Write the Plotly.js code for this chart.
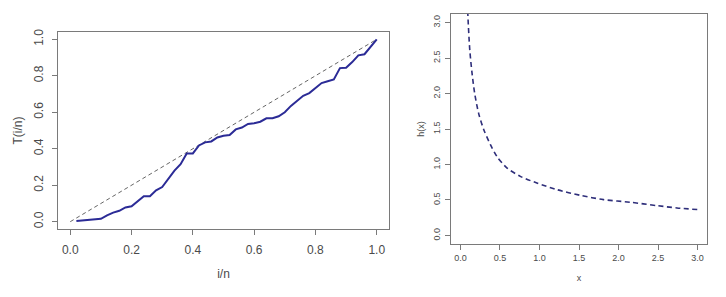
<!DOCTYPE html>
<html>
<head>
<meta charset="utf-8">
<script src="https://cdn.plot.ly/plotly-3.0.1.min.js"></script>
<style>html,body{margin:0;padding:0;background:#fff;}#chart{width:726px;height:297px;}</style>
</head>
<body>
<div id="chart"></div>
<script>
// Left panel: T(i/n) vs i/n
const leftX = [0.02,0.04,0.06,0.08,0.10,0.12,0.14,0.16,0.18,0.20,0.22,0.24,0.26,0.28,0.30,0.32,0.34,0.36,0.38,0.40,0.42,0.44,0.46,0.48,0.50,0.52,0.54,0.56,0.58,0.60,0.62,0.64,0.66,0.68,0.70,0.72,0.74,0.76,0.78,0.80,0.82,0.84,0.86,0.88,0.90,0.92,0.94,0.96,0.98,1.00];
const leftT = [0.004,0.008,0.012,0.013,0.016,0.035,0.05,0.06,0.078,0.085,0.11,0.14,0.14,0.172,0.19,0.235,0.28,0.315,0.374,0.374,0.418,0.435,0.44,0.462,0.471,0.475,0.506,0.516,0.536,0.54,0.548,0.567,0.567,0.578,0.60,0.635,0.665,0.69,0.705,0.73,0.76,0.77,0.78,0.842,0.844,0.875,0.912,0.918,0.96,1.0];
const diagX = [0, 1];
const diagY = [0, 1];
const leftTicks = [0.0, 0.2, 0.4, 0.6, 0.8, 1.0];

// Right panel: h(x) vs x
const rightX = [0.085,0.093,0.118,0.147,0.18,0.23,0.295,0.379,0.463,0.59,0.757,0.967,1.22,1.515,1.81,2.15,2.49,2.74,3.0];
const rightH = [3.4,3.117,2.61,2.28,2.0,1.72,1.49,1.28,1.11,0.95,0.833,0.739,0.646,0.566,0.505,0.468,0.42,0.388,0.365];
const rightTicks = [0.0, 0.5, 1.0, 1.5, 2.0, 2.5, 3.0];

const textCol = '#4a4a4a';
const boxCol = '#7a7a7a';
const fam = 'Liberation Sans, Arial, sans-serif';

const traces = [
  {x: diagX, y: diagY, xaxis: 'x', yaxis: 'y', mode: 'lines',
   line: {color: '#666666', width: 1, dash: '4px,3px'}, hoverinfo: 'skip'},
  {x: leftX, y: leftT, xaxis: 'x', yaxis: 'y', mode: 'lines',
   line: {color: '#2b2b96', width: 2}},
  {x: rightX, y: rightH, xaxis: 'x2', yaxis: 'y2', mode: 'lines',
   line: {color: '#2e2e7a', width: 1.6, dash: '5px,3.5px', shape: 'spline', smoothing: 0.8}}
];

function ax(extra) {
  return Object.assign({
    showline: true, mirror: true, linecolor: boxCol, linewidth: 1,
    ticks: 'outside', ticklen: 5, tickcolor: boxCol, tickwidth: 1,
    showgrid: false, zeroline: false, tickformat: '.1f',
    tickfont: {family: fam, color: textCol, size: 12},
    automargin: false
  }, extra);
}

const layout = {
  width: 726, height: 297,
  margin: {l: 0, r: 0, t: 0, b: 0},
  paper_bgcolor: '#ffffff', plot_bgcolor: '#ffffff',
  showlegend: false,
  font: {family: fam, color: textCol},
  xaxis: ax({domain: [58/726, 389/726], range: [-0.04, 1.04], tickvals: leftTicks,
    ticklabelstandoff: 5,
    title: {text: 'i/n', font: {size: 12, color: textCol}, standoff: 13}}),
  yaxis: ax({domain: [1 - 229/297, 1 - 32/297], range: [-0.04, 1.04], tickvals: leftTicks,
    tickangle: -90, ticklabelstandoff: 4,
    title: {text: 'T(i/n)', font: {size: 12, color: textCol}, standoff: 7}}),
  xaxis2: ax({domain: [451/726, 707/726], range: [-0.12, 3.12], tickvals: rightTicks, anchor: 'y2',
    tickfont: {family: fam, color: textCol, size: 9}, ticklabelstandoff: 0,
    title: {text: 'x', font: {size: 9, color: textCol}, standoff: 12}}),
  yaxis2: ax({domain: [1 - 244/297, 1 - 14/297], range: [-0.12, 3.12], tickvals: rightTicks, anchor: 'x2',
    tickangle: -90, tickfont: {family: fam, color: textCol, size: 9}, ticklabelstandoff: 1,
    title: {text: 'h(x)', font: {size: 9, color: textCol}, standoff: 6}})
};

Plotly.newPlot('chart', traces, layout, {staticPlot: true, displayModeBar: false});
</script>
</body>
</html>
